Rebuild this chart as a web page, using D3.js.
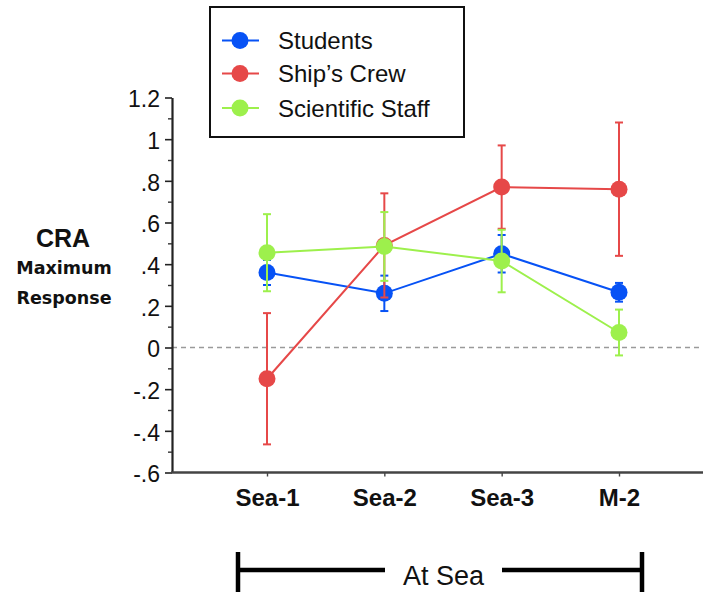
<!DOCTYPE html>
<html>
<head>
<meta charset="utf-8">
<script src="https://cdn.jsdelivr.net/npm/d3@7"></script>
<style>
  html, body { margin: 0; padding: 0; background: #fff; }
  svg { display: block; }
</style>
</head>
<body>
<svg id="chart" width="703" height="592"></svg>
<script>
// ---- data ----
const categories = ["Sea-1", "Sea-2", "Sea-3", "M-2"];
const seriesNames = ["Students", "Ship\u2019s Crew", "Scientific Staff"];
const studentsValues = [0.36, 0.26, 0.45, 0.265];
const studentsErrors = [0.06, 0.085, 0.09, 0.045];
const crewValues = [-0.15, 0.49, 0.77, 0.76];
const crewErrors = [0.315, 0.25, 0.2, 0.32];
const staffValues = [0.455, 0.485, 0.415, 0.072];
const staffErrors = [0.185, 0.165, 0.15, 0.11];
const yTickValues = [-0.6, -0.4, -0.2, 0, 0.2, 0.4, 0.6, 0.8, 1, 1.2];
const yTickLabels = ["-.6", "-.4", "-.2", "0", ".2", ".4", ".6", ".8", "1", "1.2"];
const yMinorTicks = [-0.5, -0.3, -0.1, 0.1, 0.3, 0.5, 0.7, 0.9, 1.1];
const bracketLabel = "At Sea";

const colors = ["#0752f5", "#e64848", "#9df04c"];
const series = [
  { name: seriesNames[0], values: studentsValues, errors: studentsErrors, color: colors[0] },
  { name: seriesNames[1], values: crewValues, errors: crewErrors, color: colors[1] },
  { name: seriesNames[2], values: staffValues, errors: staffErrors, color: colors[2] }
];

const svg = d3.select("#chart");
const axisX0 = 172, axisX1 = 703;
const y = d3.scaleLinear().domain([-0.6, 1.2]).range([472.5, 97.5]);
const x = d3.scalePoint().domain(categories).range([267, 619]);
const sans = "'Liberation Sans', Arial, Helvetica, sans-serif";

// zero dashed line
svg.append("line")
  .attr("x1", axisX0).attr("x2", axisX1)
  .attr("y1", y(0)).attr("y2", y(0))
  .attr("stroke", "#9a9a9a").attr("stroke-width", 1.5)
  .attr("stroke-dasharray", "5,4");

// y axis (major)
const yAxis = d3.axisLeft(y).tickValues(yTickValues)
  .tickFormat((d, i) => yTickLabels[i]).tickSize(7).tickSizeOuter(0).tickPadding(5);
const gy = svg.append("g").attr("transform", `translate(${axisX0},0)`).call(yAxis);
gy.select(".domain").attr("stroke", "#222").attr("stroke-width", 2.2);
gy.selectAll(".tick line").attr("stroke", "#222").attr("stroke-width", 1.6);
gy.selectAll(".tick text").attr("font-family", sans).attr("font-size", 23)
  .attr("fill", "#111").attr("dy", "0.4em");

// y minor ticks
const yMinor = d3.axisLeft(y).tickValues(yMinorTicks).tickFormat("").tickSize(4).tickSizeOuter(0);
const gym = svg.append("g").attr("transform", `translate(${axisX0},0)`).call(yMinor);
gym.select(".domain").remove();
gym.selectAll(".tick line").attr("stroke", "#333").attr("stroke-width", 1.4);

// x axis
const xAxis = d3.axisBottom(x).tickSize(4).tickSizeOuter(0).tickPadding(12);
const gx = svg.append("g").attr("transform", `translate(0,${y(-0.6)})`).call(xAxis);
gx.select(".domain").remove();
gx.selectAll(".tick line").attr("stroke", "#444").attr("stroke-width", 1.4);
gx.selectAll(".tick text").attr("font-family", sans).attr("font-size", 24)
  .attr("font-weight", "bold").attr("fill", "#111");
svg.append("line")
  .attr("x1", axisX0 - 1).attr("x2", axisX1)
  .attr("y1", y(-0.6)).attr("y2", y(-0.6))
  .attr("stroke", "#444").attr("stroke-width", 2.4);

// series
const line = d3.line().x((d, i) => x(categories[i])).y(d => y(d));
series.forEach(s => {
  const g = svg.append("g");
  g.append("path").datum(s.values).attr("d", line)
    .attr("fill", "none").attr("stroke", s.color).attr("stroke-width", 2);
  s.values.forEach((v, i) => {
    const cx = x(categories[i]);
    const lo = y(v - s.errors[i]), hi = y(v + s.errors[i]);
    g.append("line").attr("x1", cx).attr("x2", cx).attr("y1", lo).attr("y2", hi)
      .attr("stroke", s.color).attr("stroke-width", 2);
    [lo, hi].forEach(yy => g.append("line")
      .attr("x1", cx - 4).attr("x2", cx + 4).attr("y1", yy).attr("y2", yy)
      .attr("stroke", s.color).attr("stroke-width", 2));
  });
  g.selectAll("circle").data(s.values).enter().append("circle")
    .attr("cx", (d, i) => x(categories[i])).attr("cy", d => y(d))
    .attr("r", 8.5).attr("fill", s.color);
});

// legend
const legend = svg.append("g");
legend.append("rect").attr("x", 210).attr("y", 7).attr("width", 254).attr("height", 130)
  .attr("fill", "#fff").attr("stroke", "#111").attr("stroke-width", 2);
const legendY = [40.5, 73.5, 108];
series.forEach((s, i) => {
  legend.append("line").attr("x1", 222).attr("x2", 259)
    .attr("y1", legendY[i]).attr("y2", legendY[i])
    .attr("stroke", s.color).attr("stroke-width", 2);
  legend.append("circle").attr("cx", 240).attr("cy", legendY[i]).attr("r", 8.5).attr("fill", s.color);
  legend.append("text").attr("x", 278).attr("y", legendY[i]).attr("dy", "0.36em")
    .attr("font-family", sans).attr("font-size", 24).attr("fill", "#111").text(s.name);
});

// y title
svg.append("text").attr("x", 63).attr("y", 247).attr("text-anchor", "middle")
  .attr("font-family", sans).attr("font-weight", "bold").attr("font-size", 25)
  .attr("fill", "#111").text("CRA");
svg.append("text").attr("x", 64).attr("y", 274).attr("text-anchor", "middle")
  .attr("font-family", "'DejaVu Sans', Verdana, sans-serif").attr("font-weight", "bold")
  .attr("font-size", 17.5).attr("fill", "#111").text("Maximum");
svg.append("text").attr("x", 64).attr("y", 304).attr("text-anchor", "middle")
  .attr("font-family", "'DejaVu Sans', Verdana, sans-serif").attr("font-weight", "bold")
  .attr("font-size", 17.5).attr("fill", "#111").text("Response");

// bracket
const bx0 = 238, bx1 = 642, by = 570;
const br = svg.append("g").attr("stroke", "#000").attr("stroke-width", 4.5);
br.append("line").attr("x1", bx0).attr("x2", 385).attr("y1", by).attr("y2", by);
br.append("line").attr("x1", 502).attr("x2", bx1).attr("y1", by).attr("y2", by);
br.append("line").attr("x1", bx0).attr("x2", bx0).attr("y1", 552).attr("y2", 592);
br.append("line").attr("x1", bx1).attr("x2", bx1).attr("y1", 552).attr("y2", 592);
svg.append("text").attr("x", (385 + 502) / 2).attr("y", 585).attr("text-anchor", "middle")
  .attr("font-family", sans).attr("font-size", 27).attr("fill", "#111").text(bracketLabel);
</script>
</body>
</html>
